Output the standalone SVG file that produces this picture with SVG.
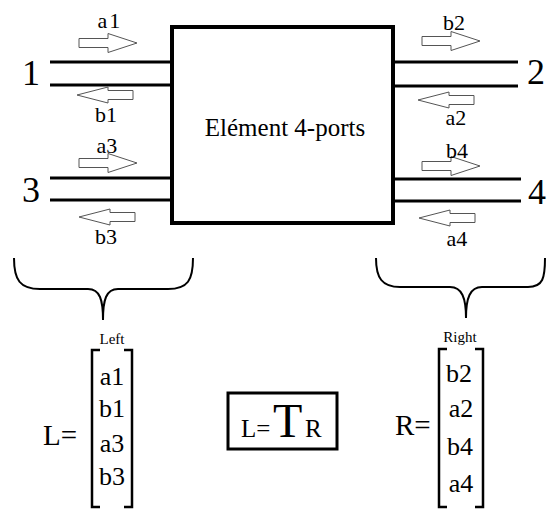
<svg xmlns="http://www.w3.org/2000/svg" xmlns:xlink="http://www.w3.org/1999/xlink" width="547" height="509" viewBox="0 0 547 509" font-family="'Liberation Serif', 'DejaVu Serif', 'Times New Roman', serif">
<style>
text{font-family:'Liberation Serif','DejaVu Serif','Times New Roman',serif;fill:#000}
.lbl{font-size:22px;text-anchor:middle}
.port{font-size:36px;text-anchor:middle}
.wire{stroke:#000;stroke-width:3;fill:none}
.brace{stroke:#000;stroke-width:2;fill:none}
.brk{stroke:#000;stroke-width:2.5;fill:none}
.arr{fill:#fff;stroke:#555;stroke-width:1}
.ent{font-size:26px;text-anchor:middle}
</style>
<defs>
<path id="arR" class="arr" d="M-58,-4.5 H-29 V-9.5 L0,0 L-29,9.5 V4.5 H-58 Z"/>
<path id="arL" class="arr" d="M56,-4.5 H31 V-8 L0,0 L31,8 V4.5 H56 Z"/>
</defs>
<rect width="547" height="509" fill="#fff"/>
<g id="element">
<rect x="172" y="27" width="221" height="196" fill="#fff" stroke="#000" stroke-width="4"/>
<text x="285" y="136" font-size="25" text-anchor="middle">Elément 4-ports</text>
</g>
<g id="connectors">
<line class="wire" x1="50" y1="62" x2="172" y2="62"/>
<line class="wire" x1="50" y1="85" x2="172" y2="85"/>
<line class="wire" x1="50" y1="178" x2="174" y2="178"/>
<line class="wire" x1="50" y1="200" x2="172" y2="200"/>
<line class="wire" x1="393" y1="62" x2="518" y2="62"/>
<line class="wire" x1="393" y1="86" x2="518" y2="86"/>
<line class="wire" x1="393" y1="179" x2="521" y2="179"/>
<line class="wire" x1="392" y1="201" x2="521" y2="201"/>
<use xlink:href="#arR" x="137" y="43"/>
<use xlink:href="#arL" x="77" y="95"/>
<use xlink:href="#arR" x="137" y="163"/>
<use xlink:href="#arL" x="79" y="217"/>
<use xlink:href="#arR" x="480" y="41"/>
<use xlink:href="#arL" x="418" y="100"/>
<use xlink:href="#arR" x="480" y="166"/>
<use xlink:href="#arL" x="419" y="218"/>
</g>
<g id="port1"><text class="port" x="31" y="85">1</text>
<text class="lbl" x="110" y="28" letter-spacing="2">a1</text>
<text class="lbl" x="106" y="122">b1</text></g>
<g id="port3"><text class="port" x="31" y="202">3</text>
<text class="lbl" x="107" y="153">a3</text>
<text class="lbl" x="106" y="244">b3</text></g>
<g id="port2"><text class="port" x="536" y="84">2</text>
<text class="lbl" x="454" y="30">b2</text>
<text class="lbl" x="456" y="125">a2</text></g>
<g id="port4"><text class="port" x="537" y="204">4</text>
<text class="lbl" x="457" y="158">b4</text>
<text class="lbl" x="457" y="246">a4</text></g>
<g id="left-brace">
<path class="brace" d="M14,258 C14,280 20,289 40,289 H88 C100,289 103,300 103,320 C103,300 106,289 118,289 H168 C188,289 193,280 193,258"/>
<text x="112" y="344" font-size="15" text-anchor="middle">Left</text>
</g>
<g id="right-brace">
<path class="brace" d="M376,258 C376,278 382,287 400,287 H450 C462,287 466,298 466,318 C466,298 470,287 482,287 H528 C543,287 545,278 545,258"/>
<text x="460" y="342" font-size="15" text-anchor="middle">Right</text>
</g>
<g id="L-matrix">
<text x="43" y="445" font-size="29">L=</text>
<path class="brk" d="M100,350 H92 V507 H100"/>
<path class="brk" d="M124,350 H132 V507 H124"/>
<text class="ent" x="112" y="385">a1</text>
<text class="ent" x="112" y="417">b1</text>
<text class="ent" x="112" y="452">a3</text>
<text class="ent" x="112" y="485">b3</text>
</g>
<g id="R-matrix">
<text x="395" y="435" font-size="29">R=</text>
<path class="brk" d="M447,349 H439 V507 H447"/>
<path class="brk" d="M475,349 H483 V507 H475"/>
<text class="ent" x="459" y="382">b2</text>
<text class="ent" x="461" y="417">a2</text>
<text class="ent" x="460" y="455">b4</text>
<text class="ent" x="461" y="492">a4</text>
</g>
<g id="equation">
<rect x="228" y="393" width="109" height="56" fill="none" stroke="#000" stroke-width="3"/>
<text x="241" y="437" font-size="25">L=</text>
<text x="273" y="437" font-size="48">T</text>
<text x="305" y="437" font-size="25">R</text>
</g>
</svg>
